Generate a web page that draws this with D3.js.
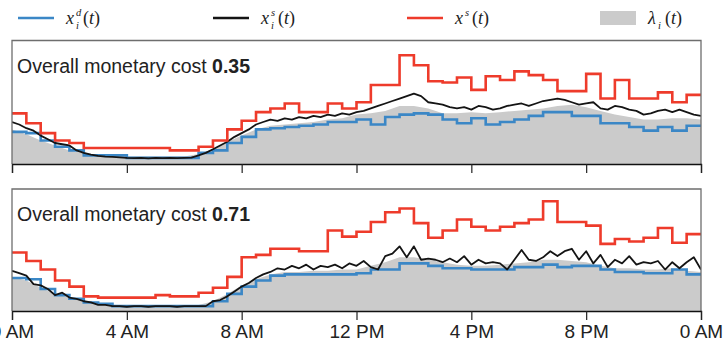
<!DOCTYPE html>
<html><head><meta charset="utf-8">
<script src="https://cdn.jsdelivr.net/npm/d3@7"></script>
<style>body{margin:0;background:#fff}svg{display:block}</style>
</head><body>
<svg id="chart" width="724" height="344"></svg>
<script>
// ---- data ----
const tickHours = [0, 4, 8, 12, 16, 20, 24];
const tickLabels = ["0 AM", "4 AM", "8 AM", "12 PM", "4 PM", "8 PM", "0 AM"];
const costLabels = ["0.35", "0.71"];

// half-hourly step series (48 slots)
const redTop = [0.41,0.33,0.25,0.19,0.17,0.13,0.13,0.13,0.13,0.13,0.13,0.11,0.11,0.14,0.19,0.28,0.35,0.42,0.45,0.49,0.42,0.42,0.49,0.45,0.50,0.64,0.64,0.88,0.80,0.67,0.66,0.70,0.60,0.71,0.68,0.75,0.72,0.68,0.59,0.59,0.73,0.53,0.68,0.53,0.53,0.58,0.50,0.56];
const blueTop = [0.26,0.25,0.19,0.14,0.11,0.07,0.07,0.07,0.05,0.05,0.05,0.05,0.05,0.09,0.11,0.17,0.22,0.28,0.29,0.30,0.31,0.32,0.34,0.34,0.36,0.32,0.38,0.40,0.41,0.40,0.36,0.33,0.37,0.32,0.34,0.36,0.39,0.42,0.42,0.39,0.39,0.33,0.33,0.30,0.27,0.30,0.27,0.31];
const redBottom = [0.48,0.41,0.34,0.25,0.20,0.12,0.11,0.11,0.11,0.11,0.13,0.12,0.12,0.15,0.19,0.28,0.44,0.46,0.51,0.51,0.49,0.49,0.66,0.61,0.65,0.73,0.81,0.84,0.72,0.60,0.66,0.75,0.69,0.66,0.69,0.72,0.75,0.90,0.73,0.73,0.70,0.55,0.59,0.57,0.60,0.68,0.56,0.63];
const blueBottom = [0.27,0.26,0.18,0.13,0.10,0.07,0.06,0.04,0.04,0.04,0.04,0.04,0.04,0.04,0.08,0.14,0.20,0.25,0.29,0.30,0.30,0.30,0.30,0.30,0.31,0.34,0.34,0.39,0.39,0.37,0.35,0.35,0.34,0.34,0.34,0.36,0.36,0.38,0.36,0.37,0.37,0.34,0.32,0.32,0.31,0.31,0.34,0.30];

// lambda (gray area), half-hourly points 0..24 h
const grayTop = [0.28,0.24,0.19,0.15,0.11,0.09,0.07,0.06,0.06,0.06,0.06,0.06,0.06,0.08,0.12,0.18,0.23,0.28,0.31,0.32,0.33,0.34,0.36,0.37,0.40,0.41,0.43,0.47,0.47,0.45,0.41,0.41,0.42,0.41,0.42,0.43,0.44,0.45,0.47,0.48,0.46,0.43,0.40,0.38,0.36,0.36,0.37,0.37,0.36];
const grayBottom = [0.28,0.25,0.19,0.14,0.11,0.08,0.06,0.05,0.05,0.05,0.05,0.05,0.05,0.05,0.08,0.14,0.21,0.26,0.30,0.32,0.32,0.33,0.33,0.34,0.34,0.37,0.40,0.44,0.44,0.42,0.40,0.38,0.37,0.37,0.38,0.39,0.40,0.42,0.42,0.41,0.40,0.37,0.35,0.35,0.34,0.34,0.35,0.33,0.32];

// x_i^s, quarter-hourly points 0..24 h
const blackTop = [0.34,0.32,0.29,0.27,0.23,0.20,0.17,0.16,0.15,0.11,0.09,0.075,0.065,0.06,0.057,0.054,0.05,0.048,0.05,0.046,0.05,0.048,0.05,0.047,0.05,0.052,0.07,0.09,0.12,0.15,0.18,0.22,0.25,0.28,0.32,0.34,0.36,0.35,0.37,0.36,0.38,0.37,0.39,0.38,0.40,0.39,0.41,0.40,0.42,0.43,0.45,0.47,0.49,0.51,0.53,0.55,0.57,0.55,0.50,0.49,0.48,0.46,0.45,0.46,0.44,0.47,0.46,0.44,0.45,0.47,0.48,0.49,0.47,0.49,0.51,0.52,0.53,0.52,0.50,0.48,0.49,0.50,0.45,0.44,0.47,0.46,0.44,0.43,0.40,0.41,0.43,0.44,0.42,0.44,0.42,0.40,0.39];
const blackBottom = [0.33,0.31,0.29,0.22,0.21,0.18,0.13,0.15,0.11,0.10,0.08,0.07,0.05,0.05,0.04,0.04,0.035,0.04,0.04,0.035,0.04,0.04,0.04,0.035,0.04,0.04,0.04,0.04,0.08,0.09,0.12,0.16,0.20,0.23,0.27,0.30,0.32,0.35,0.34,0.37,0.35,0.38,0.34,0.37,0.36,0.38,0.35,0.39,0.37,0.41,0.36,0.34,0.45,0.47,0.53,0.44,0.53,0.42,0.43,0.42,0.40,0.43,0.40,0.45,0.38,0.42,0.39,0.40,0.39,0.34,0.42,0.50,0.42,0.41,0.44,0.49,0.45,0.49,0.51,0.42,0.49,0.39,0.46,0.36,0.42,0.39,0.45,0.38,0.40,0.39,0.41,0.34,0.40,0.35,0.40,0.44,0.34];

// ---- drawing ----
const C = {blue:"#3b87c6", black:"#141414", red:"#ee3b2b", gray:"#cbcbcb", frame:"#6e6e6e"};
const svg = d3.select("#chart");
const x = d3.scaleLinear().domain([0, 24]).range([12, 701]);

const panels = [
  {top:40.5, bottom:164, red:redTop, blue:blueTop, gray:grayTop, black:blackTop, cost:costLabels[0], labels:false},
  {top:189, bottom:311, red:redBottom, blue:blueBottom, gray:grayBottom, black:blackBottom, cost:costLabels[1], labels:true}
];

const stepPts = arr => arr.map((v, k) => [k * 24 / arr.length, v]).concat([[24, arr[arr.length - 1]]]);
const linePts = arr => arr.map((v, k) => [k * 24 / (arr.length - 1), v]);

panels.forEach(p => {
  const y = d3.scaleLinear().domain([0, 1]).range([p.bottom, p.top]);
  const g = svg.append("g");
  const clipId = "clip" + Math.round(p.top);
  svg.append("clipPath").attr("id", clipId).append("rect")
    .attr("x", x(0)).attr("y", p.top).attr("width", x(24) - x(0)).attr("height", p.bottom - p.top);
  const inner = g.append("g").attr("clip-path", `url(#${clipId})`);

  inner.append("path").datum(linePts(p.gray))
    .attr("fill", C.gray)
    .attr("d", d3.area().x(d => x(d[0])).y0(y(0)).y1(d => y(d[1])));
  inner.append("path").datum(stepPts(p.blue))
    .attr("fill", "none").attr("stroke", C.blue).attr("stroke-width", 2.6)
    .attr("d", d3.line().curve(d3.curveStepAfter).x(d => x(d[0])).y(d => y(d[1])));
  inner.append("path").datum(linePts(p.black))
    .attr("fill", "none").attr("stroke", C.black).attr("stroke-width", 1.8).attr("stroke-linejoin", "round")
    .attr("d", d3.line().x(d => x(d[0])).y(d => y(d[1])));
  inner.append("path").datum(stepPts(p.red))
    .attr("fill", "none").attr("stroke", C.red).attr("stroke-width", 2.6)
    .attr("d", d3.line().curve(d3.curveStepAfter).x(d => x(d[0])).y(d => y(d[1])));

  // frame (left, top, right)
  g.append("path")
    .attr("d", `M${x(0)},${p.bottom}V${p.top}H${x(24)}V${p.bottom}`)
    .attr("fill", "none").attr("stroke", C.frame).attr("stroke-width", 1.3);

  // bottom axis
  const ax = d3.axisBottom(x).tickValues(tickHours).tickSize(9).tickPadding(5)
    .tickFormat((d, i) => p.labels ? tickLabels[i] : "");
  const axg = g.append("g").attr("transform", `translate(0,${p.bottom})`).call(ax);
  axg.select(".domain").attr("stroke", "#111").attr("stroke-width", 1.3);
  axg.selectAll(".tick line").attr("stroke", "#222").attr("stroke-width", 1.2);
  axg.selectAll(".tick text").attr("font-family", "Liberation Sans, Arial, sans-serif")
    .attr("font-size", 19).attr("fill", "#222");

  const t = g.append("text").attr("x", 17).attr("y", p.top + 32)
    .attr("font-family", "Liberation Sans, Arial, sans-serif").attr("font-size", 19.5).attr("fill", "#222");
  t.append("tspan").text("Overall monetary cost ");
  t.append("tspan").attr("font-weight", "bold").text(p.cost);
});

// ---- legend ----
const lg = svg.append("g").attr("font-family", "Liberation Serif, Times New Roman, serif").attr("fill", "#222");
const legendItems = [
  {x0:18, kind:"line", color:C.blue, main:"x", sup:"d", sub:"i"},
  {x0:213, kind:"line", color:C.black, main:"x", sup:"s", sub:"i"},
  {x0:407, kind:"line", color:C.red, main:"x", sup:"s", sub:null},
  {x0:600, kind:"rect", color:C.gray, main:"λ", sup:null, sub:"i"}
];
const ly = 18, handleLen = 36, labelOff = 48;
legendItems.forEach(it => {
  if (it.kind === "line") {
    lg.append("line").attr("x1", it.x0).attr("x2", it.x0 + handleLen).attr("y1", ly).attr("y2", ly)
      .attr("stroke", it.color).attr("stroke-width", 2.6);
  } else {
    lg.append("rect").attr("x", it.x0).attr("y", ly - 7).attr("width", handleLen).attr("height", 14).attr("fill", it.color);
  }
  const lx = it.x0 + labelOff, base = ly + 6;
  lg.append("text").attr("x", lx).attr("y", base).attr("font-size", 18).attr("font-style", "italic").text(it.main);
  const sx = lx + 10;
  if (it.sup) lg.append("text").attr("x", sx).attr("y", base - 8).attr("font-size", 10.5).attr("font-style", "italic").text(it.sup);
  if (it.sub) lg.append("text").attr("x", sx).attr("y", base + 5).attr("font-size", 10.5).attr("font-style", "italic").text(it.sub);
  const pt = lg.append("text").attr("x", sx + 7).attr("y", base).attr("font-size", 18);
  pt.append("tspan").text("(");
  pt.append("tspan").attr("font-style", "italic").text("t");
  pt.append("tspan").text(")");
});
</script>
</body></html>
